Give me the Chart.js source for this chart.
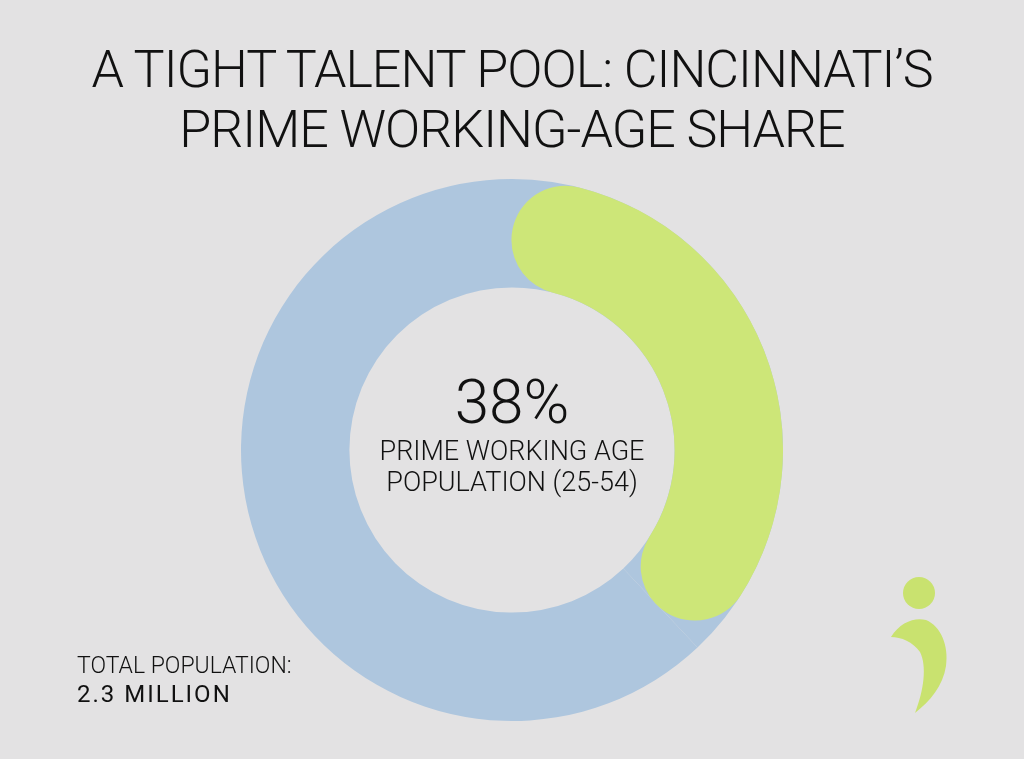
<!DOCTYPE html>
<html lang="en">
<head>
<meta charset="UTF-8">
<title>A Tight Talent Pool</title>
<script src="https://cdn.jsdelivr.net/npm/chart.js"></script>
<style>
body {
    margin: 0;
    background: #e3e2e3;
    font-family: Roboto, "Liberation Sans", sans-serif;
    color: #111;
}
.page {
    position: relative;
    width: 1024px;
    height: 759px;
    overflow: hidden;
    background: #e3e2e3;
}
.title {
    position: absolute;
    left: 0;
    width: 1024px;
    text-align: center;
    font-size: 52px;
    font-weight: 300;
    letter-spacing: -1px;
    line-height: 60px;
    top: 40px;
}
.ring {
    position: absolute;
    left: 241px;
    top: 179px;
    width: 542px;
    height: 542px;
}
.ring canvas {
    position: absolute;
    left: 0;
    top: 0;
}
.center {
    position: absolute;
    left: 312px;
    width: 400px;
    text-align: center;
}
.big {
    top: 365px;
    font-size: 62px;
    font-weight: 300;
}
.sub {
    top: 436px;
    font-size: 27px;
    font-weight: 300;
    line-height: 31px;
}
.total {
    position: absolute;
    left: 77px;
    top: 652px;
    font-size: 23px;
    font-weight: 300;
    line-height: 28px;
}
.total b {
    font-size: 24px;
    font-weight: 400;
    letter-spacing: 2px;
}
.logo {
    position: absolute;
    left: 0;
    top: 0;
}
</style>
</head>
<body>
<div class="page">
    <div class="title">A TIGHT TALENT POOL: CINCINNATI’S<br>PRIME WORKING-AGE SHARE</div>

    <div class="ring">
        <canvas id="baseRing" width="542" height="542"></canvas>
        <canvas id="shareRing" width="542" height="542"></canvas>
    </div>

    <div class="center big" id="pctLabel"></div>
    <div class="center sub">PRIME WORKING AGE<br>POPULATION (25-54)</div>

    <div class="total">TOTAL POPULATION:<br><b>2.3 MILLION</b></div>

    <svg class="logo" width="1024" height="759">
        <circle cx="919" cy="593" r="16" fill="#c9e26f"/>
        <path d="M891,637 C900,622 915,617 926,620 C941,626 949,646 946,666 C943,686 930,701 915,713 C924,690 927,666 920,652 C913,642 901,637 891,637 Z" fill="#c9e26f"/>
    </svg>
</div>

<script>
// share of total population, percent
const groups = ['Prime working age (25-54)', 'Other ages'];
const shares = [38, 62];

const blue = '#aec6de';
const green = '#cde678';

document.getElementById('pctLabel').textContent = shares[0] + '%';

const common = {
    responsive: false,
    animation: false,
    cutout: '60%',
    layout: { padding: 0 },
    plugins: {
        legend: { display: false },
        tooltip: { enabled: false }
    }
};

// full blue ring underneath
new Chart(document.getElementById('baseRing'), {
    type: 'doughnut',
    data: {
        labels: groups,
        datasets: [{
            data: shares,
            backgroundColor: [blue, blue],
            borderWidth: 0
        }]
    },
    options: common
});

// green share on top with rounded ends
new Chart(document.getElementById('shareRing'), {
    type: 'doughnut',
    data: {
        labels: groups,
        datasets: [{
            data: shares,
            backgroundColor: [green, 'rgba(0,0,0,0)'],
            borderWidth: 0,
            borderRadius: [80, 0]
        }]
    },
    options: common
});
</script>
</body>
</html>
